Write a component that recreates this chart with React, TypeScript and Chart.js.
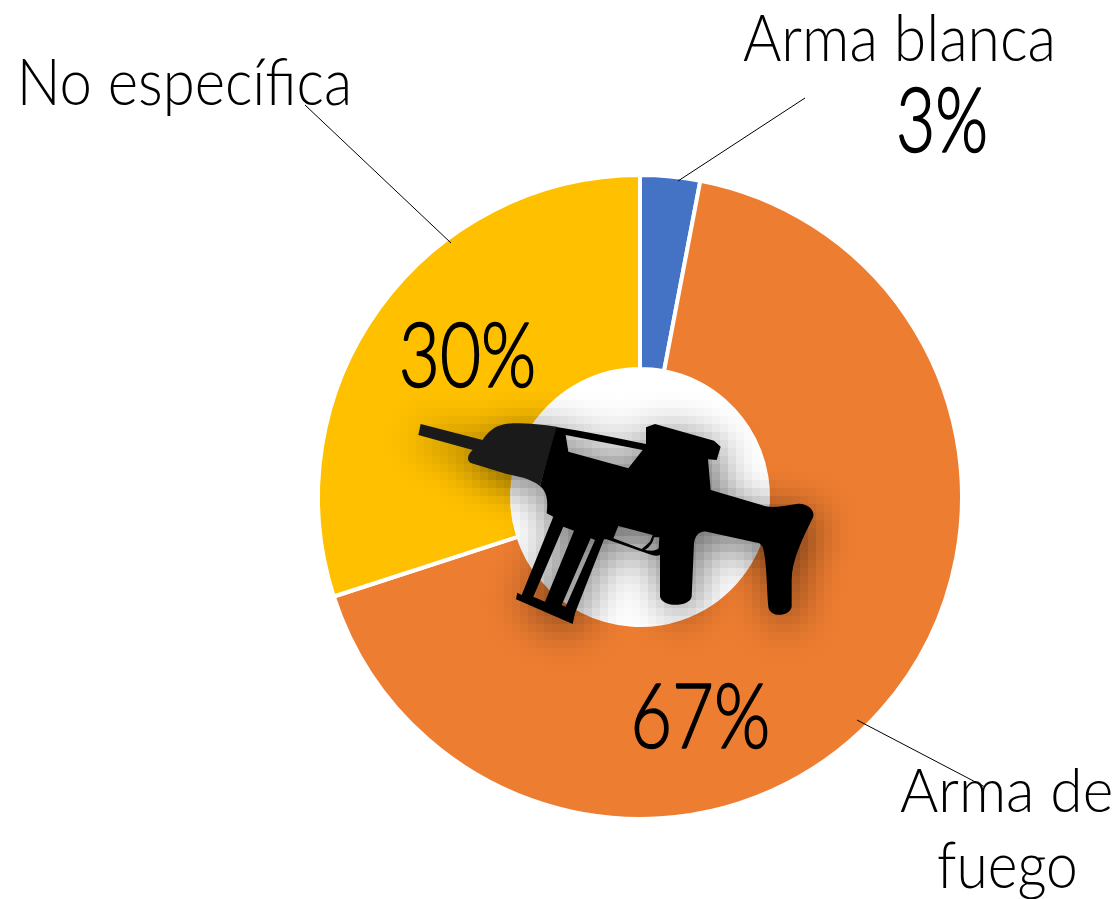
import React, { useEffect, useRef } from "react";
import { Chart, registerables } from "chart.js";

Chart.register(...registerables);

const categories = ["Arma blanca", "Arma de fuego", "No específica"];
const values = [3, 67, 30];
const colors = ["#4472C4", "#ED7D31", "#FFC000"];

const FONT = 'Lato';

const BODY_PATH =
  "M465 80 C560 95 660 115 738 132 L738 82 L765 72 L942 122 L962 140 L950 180 L924 178 L932 270 L1085 315 C1120 328 1160 315 1190 312 C1220 308 1245 330 1240 350 C1210 410 1175 480 1175 540 L1175 620 C1170 650 1110 655 1105 620 C1100 560 1100 480 1088 440 L1078 430 L920 395 C895 392 885 410 882 430 L875 590 C870 620 790 625 780 590 L780 465 C770 470 750 465 740 460 L620 418 L612 418 L525 640 L518 672 L348 598 L352 578 L365 585 L460 350 L440 340 C445 300 440 275 420 258 Z " +
  "M497 105 L728 150 L685 205 L505 155 Z " +
  "M490 380 L522 392 L435 605 L400 590 Z " +
  "M572 415 L585 420 L497 620 L485 615 Z " +
  "M655 378 L758 405 L750 425 L725 447 L640 415 Z " +
  "M762 412 L778 412 L776 445 C765 455 750 452 735 450 C750 440 758 430 762 412 Z";
const GUARD_PATH =
  "M62 72 L248 120 C265 95 285 72 340 70 C390 70 430 75 470 80 L420 258 C390 235 350 228 320 222 L215 190 C200 185 200 165 218 150 L55 105 Z";

const textItems = [
  { text: "Arma blanca", left: 743, right: 1052, base: 61, size: 65 },
  { text: "No específica", left: 22, right: 348, base: 105, size: 65 },
  { text: "Arma de", left: 900, right: 1111, base: 812, size: 62 },
  { text: "fuego", left: 938, right: 1075, base: 888, size: 65 },
];
const pctItems = [
  { index: 0, left: 899, right: 985, base: 152, size: 90 },
  { index: 1, left: 635, right: 767, base: 748, size: 90 },
  { index: 2, left: 402, right: 533, base: 387, size: 90 },
];
const leaders = [
  [805, 98, 678, 181],
  [305, 105, 451, 243],
  [857, 720, 985, 787],
];

function fitText(ctx: CanvasRenderingContext2D, text: string, left: number, right: number, base: number, size: number, weight: number, stroke: number) {
  ctx.save();
  ctx.font = `${weight} ${size}px ${FONT}`;
  ctx.textAlign = "left";
  ctx.textBaseline = "alphabetic";
  ctx.fillStyle = "#000";
  ctx.strokeStyle = "#000";
  const m = ctx.measureText(text);
  const w = m.actualBoundingBoxRight + m.actualBoundingBoxLeft;
  const k = (right - left) / w;
  ctx.translate(left, base);
  ctx.scale(k, 1);
  ctx.fillText(text, m.actualBoundingBoxLeft, 0);
  if (stroke > 0) {
    ctx.lineWidth = stroke;
    ctx.lineJoin = "round";
    ctx.strokeText(text, m.actualBoundingBoxLeft, 0);
  }
  ctx.restore();
}

const overlay = {
  id: "overlay",
  afterDraw(chart: any) {
    const ctx: CanvasRenderingContext2D = chart.ctx;
    const body = new Path2D(BODY_PATH);
    const guard = new Path2D(GUARD_PATH);

    const cell = 8;
    const W = Math.ceil(chart.width / cell);
    const H = Math.ceil(chart.height / cell);
    const off = document.createElement("canvas");
    off.width = W;
    off.height = H;
    const o = off.getContext("2d")!;
    o.filter = "blur(2.6px)";
    o.setTransform(1 / (3 * cell), 0, 0, 1 / (3 * cell), 400 / cell + 0.6, 400 / cell + 1);
    o.fillStyle = "#000";
    o.fill(body, "evenodd");
    o.fill(guard);
    ctx.save();
    ctx.globalAlpha = 0.62;
    ctx.imageSmoothingEnabled = false;
    ctx.drawImage(off, 0, 0, W * cell, H * cell);
    ctx.restore();

    ctx.save();
    ctx.translate(400, 400);
    ctx.scale(1 / 3, 1 / 3);
    ctx.fillStyle = "#000";
    ctx.fill(body, "evenodd");
    ctx.fillStyle = "#1a1a1a";
    ctx.fill(guard);
    ctx.restore();

    ctx.save();
    ctx.strokeStyle = "#000";
    ctx.lineWidth = 1;
    leaders.forEach(([a, b, c, d]) => {
      ctx.beginPath();
      ctx.moveTo(a, b);
      ctx.lineTo(c, d);
      ctx.stroke();
    });
    ctx.restore();

    textItems.forEach((t) => fitText(ctx, t.text, t.left, t.right, t.base, t.size, 300, 0));
    const total = values.reduce((a, b) => a + b, 0);
    pctItems.forEach((p) =>
      fitText(ctx, `${Math.round((values[p.index] / total) * 100)}%`, p.left, p.right, p.base, p.size, 300, 1.6)
    );
  },
};

export default function App() {
  const ref = useRef<HTMLCanvasElement>(null);
  useEffect(() => {
    const chart = new Chart(ref.current!, {
      type: "doughnut",
      data: {
        labels: categories,
        datasets: [{ data: values, backgroundColor: colors, borderColor: "#fff", borderWidth: 4, hoverOffset: 0 }],
      },
      options: {
        responsive: false,
        animation: false,
        cutout: "39.75%",
        layout: { padding: { left: 316, right: 153, top: 173, bottom: 78 } },
        plugins: { legend: { display: false }, tooltip: { enabled: false } },
      },
      plugins: [overlay],
    });
    return () => chart.destroy();
  }, []);
  return (
    <canvas
      ref={ref}
      width={1117}
      height={899}
      style={{ position: "absolute", left: 0, top: 0, display: "block" }}
    />
  );
}
